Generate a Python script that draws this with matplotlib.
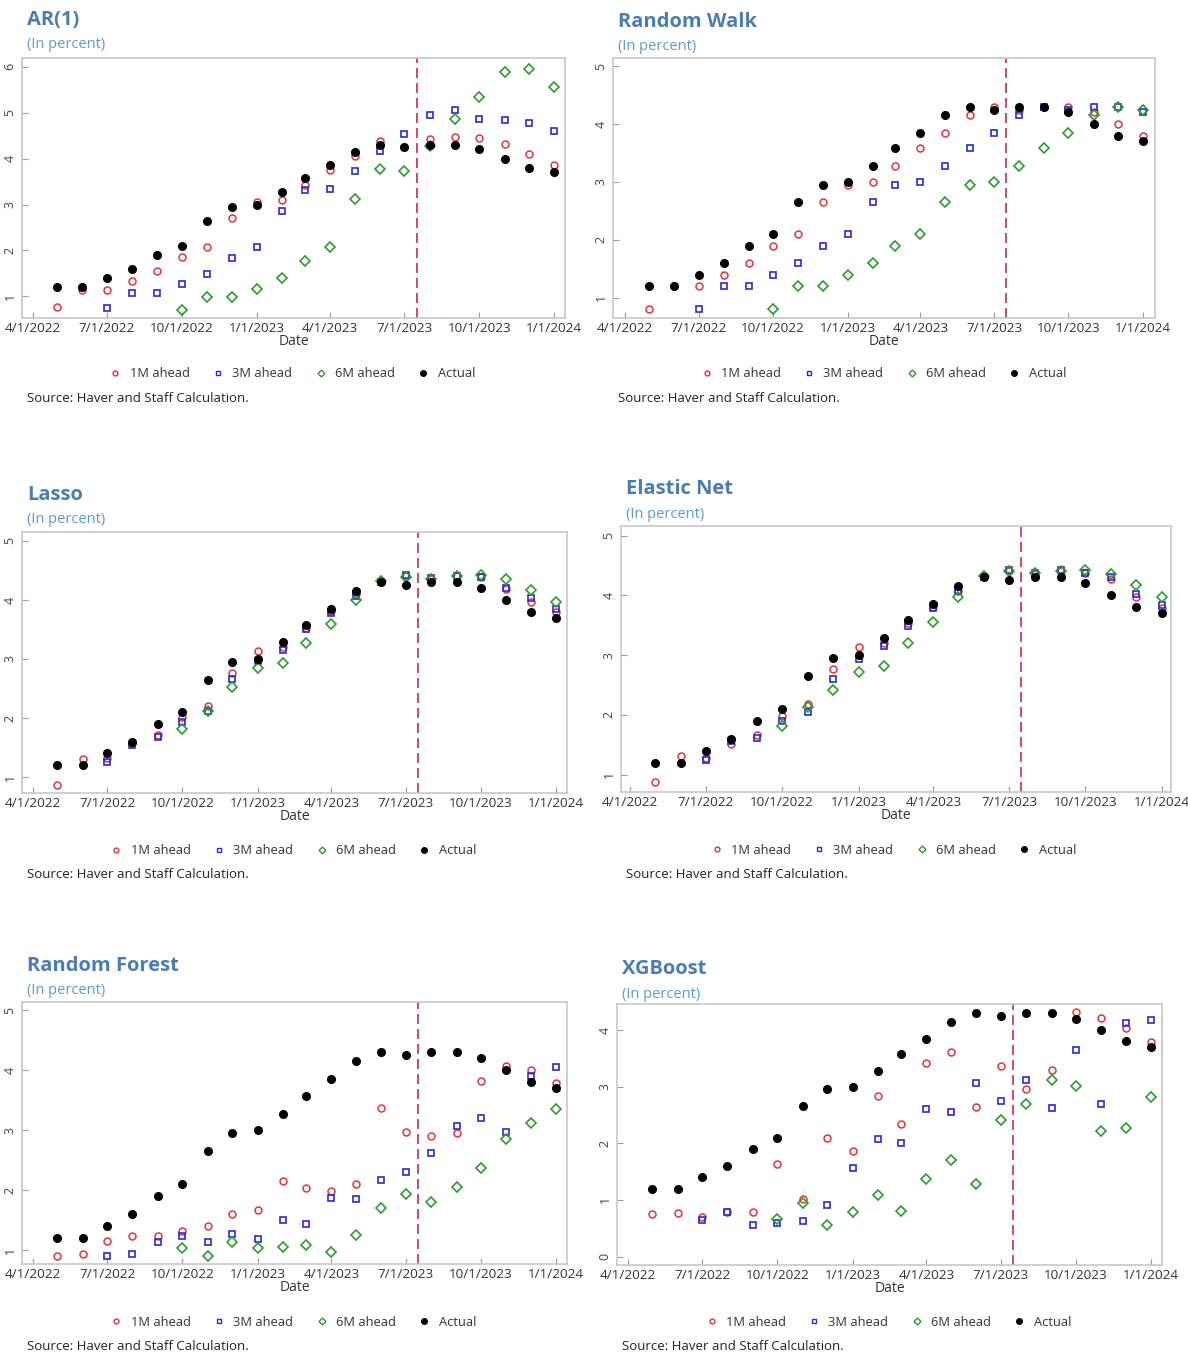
import numpy as np
import pandas as pd
import matplotlib
import matplotlib.pyplot as plt
import matplotlib.dates as mdates
from matplotlib.lines import Line2D

matplotlib.use('agg')
plt.rcParams['font.family'] = ['Open Sans', 'DejaVu Sans']

nan = np.nan
dates = pd.date_range('2022-05-01', '2024-01-01', freq='MS')
cutoff = pd.Timestamp('2023-07-16')

actual = [1.2, 1.2, 1.4, 1.6, 1.9, 2.1, 2.65, 2.95, 3.0, 3.28, 3.58,
          3.85, 4.15, 4.3, 4.25, 4.3, 4.3, 4.2, 4.0, 3.8, 3.7]

# AR(1)
ar_1m = [0.77, 1.15, 1.15, 1.34, 1.55, 1.86, 2.08, 2.71, 3.06, 3.1, 3.42,
         3.76, 4.05, 4.38, 4.25, 4.43, 4.47, 4.45, 4.32, 4.09, 3.87]
ar_3m = [nan, nan, 0.74, 1.07, 1.08, 1.27, 1.48, 1.83, 2.08, 2.86, 3.32,
         3.34, 3.74, 4.17, 4.54, 4.94, 5.05, 4.86, 4.85, 4.78, 4.59]
ar_6m = [nan, nan, nan, nan, nan, 0.70, 0.98, 0.99, 1.17, 1.39, 1.77,
         2.08, 3.12, 3.77, 3.73, 4.28, 4.87, 5.35, 5.88, 5.96, 5.56]

# Random Walk
rw_1m = [0.8, 1.2, 1.2, 1.4, 1.6, 1.9, 2.1, 2.65, 2.95, 3.0, 3.28,
         3.58, 3.85, 4.15, 4.3, 4.25, 4.3, 4.3, 4.2, 4.0, 3.8]
rw_3m = [nan, nan, 0.8, 1.2, 1.2, 1.4, 1.6, 1.9, 2.1, 2.65, 2.95,
         3.0, 3.28, 3.58, 3.85, 4.15, 4.3, 4.25, 4.3, 4.3, 4.2]
rw_6m = [nan, nan, nan, nan, nan, 0.8, 1.2, 1.2, 1.4, 1.6, 1.9,
         2.1, 2.65, 2.95, 3.0, 3.28, 3.58, 3.85, 4.15, 4.3, 4.25]

# Lasso
la_1m = [0.86, 1.30, 1.32, 1.57, 1.72, 2.01, 2.2, 2.77, 3.13, 3.2, 3.53,
         3.82, 4.1, 4.32, 4.4, 4.35, 4.4, 4.38, 4.18, 3.97, 3.8]
la_3m = [nan, nan, 1.25, 1.55, 1.67, 1.94, 2.12, 2.66, 2.97, 3.15, 3.5,
         3.78, 4.07, 4.3, 4.43, 4.37, 4.41, 4.38, 4.21, 4.03, 3.85]
la_6m = [nan, nan, nan, nan, nan, 1.82, 2.12, 2.53, 2.84, 2.93, 3.27,
         3.6, 3.99, 4.32, 4.39, 4.35, 4.4, 4.43, 4.35, 4.17, 3.97]

# Elastic Net
en_1m = [0.87, 1.31, 1.28, 1.51, 1.67, 1.98, 2.19, 2.77, 3.13, 3.2, 3.53,
         3.8, 4.08, 4.32, 4.4, 4.35, 4.4, 4.38, 4.27, 3.97, 3.78]
en_3m = [nan, nan, 1.24, 1.56, 1.61, 1.9, 2.05, 2.6, 2.93, 3.15, 3.49,
         3.78, 4.08, 4.3, 4.43, 4.38, 4.42, 4.38, 4.3, 4.03, 3.84]
en_6m = [nan, nan, nan, nan, nan, 1.81, 2.13, 2.41, 2.71, 2.82, 3.21,
         3.56, 3.98, 4.32, 4.4, 4.37, 4.4, 4.43, 4.35, 4.17, 3.97]

# Random Forest
rf_1m = [0.9, 0.93, 1.15, 1.23, 1.23, 1.32, 1.41, 1.61, 1.67, 2.15, 2.03,
         1.98, 2.11, 3.38, 2.97, 2.91, 2.96, 3.82, 4.07, 4.0, 3.79]
rf_3m = [nan, nan, 0.91, 0.93, 1.14, 1.23, 1.14, 1.27, 1.19, 1.5, 1.43,
         1.87, 1.86, 2.17, 2.31, 2.62, 3.07, 3.21, 2.98, 3.9, 4.05]
rf_6m = [nan, nan, nan, nan, nan, 1.04, 0.91, 1.13, 1.03, 1.06, 1.08,
         0.97, 1.25, 1.71, 1.94, 1.81, 2.06, 2.37, 2.86, 3.12, 3.35]

# XGBoost
xg_1m = [0.75, 0.76, 0.69, 0.79, 0.79, 1.64, 1.02, 2.09, 1.87, 2.83, 2.34,
         3.41, 3.62, 2.64, 3.36, 2.95, 3.3, 4.31, 4.21, 4.03, 3.79]
xg_3m = [nan, nan, 0.64, 0.79, 0.55, 0.59, 0.63, 0.91, 1.56, 2.08, 2.01,
         2.61, 2.56, 3.06, 2.75, 3.12, 2.62, 3.64, 2.7, 4.13, 4.18]
xg_6m = [nan, nan, nan, nan, nan, 0.66, 0.94, 0.56, 0.78, 1.09, 0.8,
         1.37, 1.71, 1.28, 2.41, 2.69, 3.11, 3.02, 2.22, 2.27, 2.81]

W, H = 1188, 1353
fig = plt.figure(figsize=(W / 100, H / 100), dpi=100)
fig.patch.set_facecolor('white')

RED, BLUE, GREEN = '#e2343c', '#2a2ad6', '#2f9a2f'
TITLE_C, SUB_C = '#4a7eb0', '#5b9bd5'


def rect(l, t, r, b):
    return [l / W, 1 - b / H, (r - l) / W, (b - t) / H]


def panel(box, title, series, ylim, yticks, title_y, leg_xy, src_y, xpad=13):
    l, t, r, b = box
    ax = fig.add_axes(rect(l, t, r, b))
    s1, s3, s6 = series
    ax.plot(dates, np.array(s1, float), 'o', ms=5, mfc='none', mec=RED, mew=1.1, zorder=3)
    ax.plot(dates, np.array(s3, float), 's', ms=5, mfc='none', mec=BLUE, mew=1.2, zorder=3)
    ax.plot(dates, np.array(s6, float), 'D', ms=5, mfc='none', mec=GREEN, mew=1.2, zorder=3)
    ax.plot(dates, actual, 'o', ms=5.5, color='black', zorder=4)
    ax.axvline(cutoff, color='#c8285a', ls=(0, (6, 3)), lw=1.2, zorder=2)

    ax.set_xlim(pd.Timestamp('2022-04-01') - pd.Timedelta(days=xpad),
                pd.Timestamp('2024-01-01') + pd.Timedelta(days=xpad))
    ax.set_ylim(*ylim)
    ax.set_xticks(pd.date_range('2022-04-01', '2024-01-01', freq='3MS'))
    ax.xaxis.set_major_formatter(
        matplotlib.ticker.FuncFormatter(lambda v, p: '{d.month}/{d.day}/{d.year}'.format(d=mdates.num2date(v))))
    ax.set_yticks(yticks)
    for lab in ax.get_yticklabels():
        lab.set_rotation(90)
        lab.set_va('center')
    ax.tick_params(axis='x', direction='in', length=4, color='#999999', labelsize=9.7,
                   labelcolor='#333333', pad=3)
    ax.tick_params(axis='y', direction='in', length=4, color='#999999', labelsize=9,
                   labelcolor='#444444', pad=4)
    ax.set_xlabel('Date', fontsize=10, color='#333333', labelpad=-1)
    for sp in ax.spines.values():
        sp.set_color('#c8c8c8')
        sp.set_linewidth(1.2)

    fig.text((l + 5) / W, 1 - title_y / H, title, fontsize=14.5, fontweight='bold',
             color=TITLE_C, va='center', ha='left')
    fig.text((l + 5) / W, 1 - (title_y + 25) / H, '(In percent)', fontsize=10.5,
             color=SUB_C, va='center', ha='left')

    handles = [
        Line2D([], [], ls='none', marker='o', ms=3.5, mfc='none', mec=RED, mew=1),
        Line2D([], [], ls='none', marker='s', ms=3.5, mfc='none', mec=BLUE, mew=1),
        Line2D([], [], ls='none', marker='D', ms=3.5, mfc='none', mec=GREEN, mew=1),
        Line2D([], [], ls='none', marker='o', ms=4, color='black'),
    ]
    fig.legend(handles, ['1M ahead', '3M ahead', '6M ahead', 'Actual'], ncol=4,
               loc='center', bbox_to_anchor=(leg_xy[0] / W, 1 - leg_xy[1] / H),
               frameon=False, fontsize=9.3, handlelength=1.0, handletextpad=0.6,
               columnspacing=1.7, labelcolor='#333333')
    fig.text((l + 5) / W, 1 - src_y / H, 'Source: Haver and Staff Calculation.',
             fontsize=9.5, color='#222222', va='center', ha='left')
    return ax


panel((22, 58, 565, 318), 'AR(1)', (ar_1m, ar_3m, ar_6m), (0.53, 6.19),
      [1, 2, 3, 4, 5, 6], 20, (292, 374), 398)
panel((613, 58, 1155, 318), 'Random Walk', (rw_1m, rw_3m, rw_6m), (0.65, 5.14),
      [1, 2, 3, 4, 5], 22, (883, 374), 398, xpad=15)
panel((22, 532, 567, 793), 'Lasso', (la_1m, la_3m, la_6m), (0.73, 5.15),
      [1, 2, 3, 4, 5], 495, (293, 851), 875)
panel((621, 526, 1171, 792), 'Elastic Net', (en_1m, en_3m, en_6m), (0.71, 5.16),
      [1, 2, 3, 4, 5], 489, (893, 850), 874, xpad=11)
panel((22, 1002, 567, 1264), 'Random Forest', (rf_1m, rf_3m, rf_6m), (0.77, 5.14),
      [1, 2, 3, 4, 5], 966, (293, 1322), 1346)
panel((617, 1004, 1162, 1265), 'XGBoost', (xg_1m, xg_3m, xg_6m), (-0.15, 4.46),
      [0, 1, 2, 3, 4], 969, (888, 1322), 1346)

fig.savefig('out.png', dpi=100)
